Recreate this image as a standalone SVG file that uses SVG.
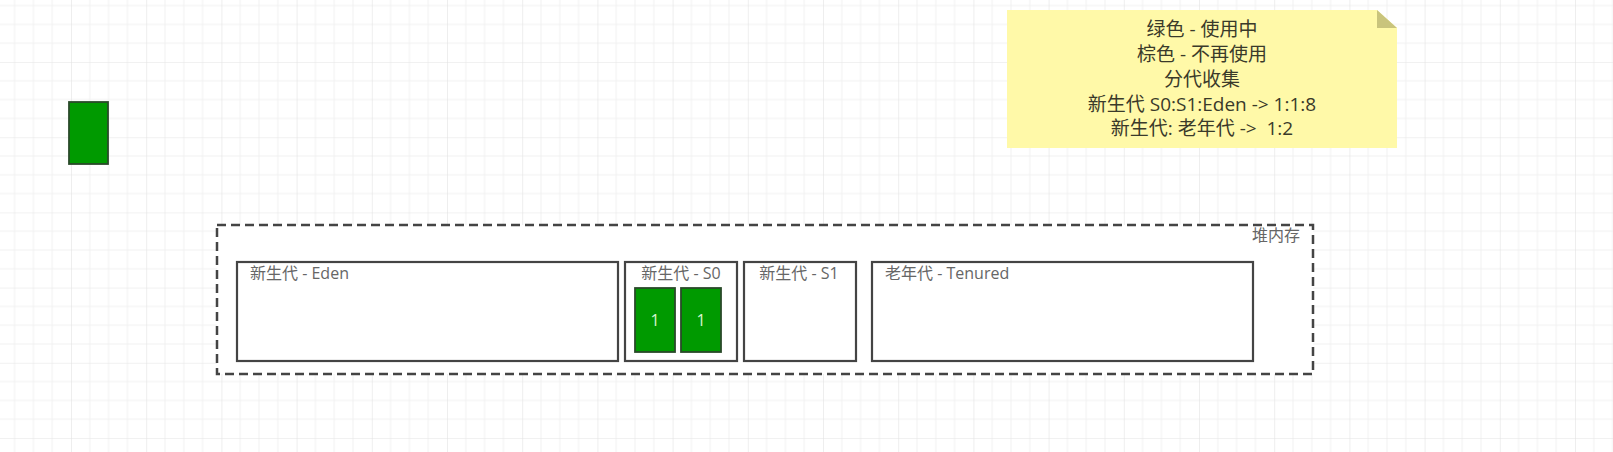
<svg xmlns="http://www.w3.org/2000/svg" width="1613" height="452" viewBox="0 0 1613 452">
  <style>
    text { font-family: "Open Sans", "Noto Sans CJK SC", sans-serif; white-space: pre; }
    .box { fill: #ffffff; stroke: #444444; stroke-width: 2.2; }
    .lbl { font-size: 16px; fill: #666666; }
    .blk { fill: #009a00; stroke: #2a4a2a; stroke-width: 1.8; }
    .one { font-size: 16px; fill: #d8f5d0; text-anchor: middle; }
    .note { font-size: 19px; fill: #3a3a2a; text-anchor: middle; }
  </style>
  <defs>
    <pattern id="grid" width="75.2" height="75.2" patternUnits="userSpaceOnUse" x="-4.2" y="-13.2">
      <path d="M18.8 0V75.2M37.6 0V75.2M56.4 0V75.2M0 18.8H75.2M0 37.6H75.2M0 56.4H75.2" stroke="#f1f1f1" stroke-width="1" fill="none"/>
      <path d="M0 0V75.2M0 0H75.2" stroke="#e3e3e3" stroke-width="1.2" fill="none"/>
    </pattern>
  </defs>
  <rect width="1613" height="452" fill="#ffffff"/>
  <rect width="1613" height="452" fill="url(#grid)"/>

  <g id="connectors"></g>

  <g id="legend-block">
    <rect class="blk" x="69" y="102" width="39" height="62"/>
  </g>

  <g id="note">
    <path d="M1007 10H1377L1397 28V148H1007Z" fill="#fff9a8"/>
    <path d="M1377 10L1397 28H1377Z" fill="#c9c47c"/>
    <text class="note" x="1202" y="36" xml:space="preserve">绿色 - 使用中</text>
    <text class="note" x="1202" y="61" xml:space="preserve">棕色 - 不再使用</text>
    <text class="note" x="1202" y="86" xml:space="preserve">分代收集</text>
    <text class="note" x="1202" y="111" xml:space="preserve">新生代 S0:S1:Eden -&gt; 1:1:8</text>
    <text class="note" x="1202" y="135" xml:space="preserve">新生代: 老年代 -&gt;  1:2</text>
  </g>

  <g id="heap">
    <rect x="217" y="225" width="1096" height="149" fill="#ffffff" stroke="#444444" stroke-width="2.5" stroke-dasharray="9 5"/>
    <text class="lbl" x="1300" y="241" text-anchor="end">堆内存</text>
  </g>

  <g id="eden">
    <rect class="box" x="237" y="262" width="381" height="99"/>
    <text class="lbl" x="250" y="279" xml:space="preserve">新生代 - Eden</text>
  </g>

  <g id="s0">
    <rect class="box" x="625" y="262" width="112" height="99"/>
    <text class="lbl" x="681" y="279" text-anchor="middle" xml:space="preserve">新生代 - S0</text>
  </g>
  <g id="s0-obj1">
    <rect class="blk" x="635" y="288" width="40" height="64"/>
    <text class="one" x="655" y="326">1</text>
  </g>
  <g id="s0-obj2">
    <rect class="blk" x="681" y="288" width="40" height="64"/>
    <text class="one" x="701" y="326">1</text>
  </g>

  <g id="s1">
    <rect class="box" x="744" y="262" width="112" height="99"/>
    <text class="lbl" x="799" y="279" text-anchor="middle" xml:space="preserve">新生代 - S1</text>
  </g>

  <g id="tenured">
    <rect class="box" x="872" y="262" width="381" height="99"/>
    <text class="lbl" x="885" y="279" xml:space="preserve">老年代 - Tenured</text>
  </g>
</svg>
